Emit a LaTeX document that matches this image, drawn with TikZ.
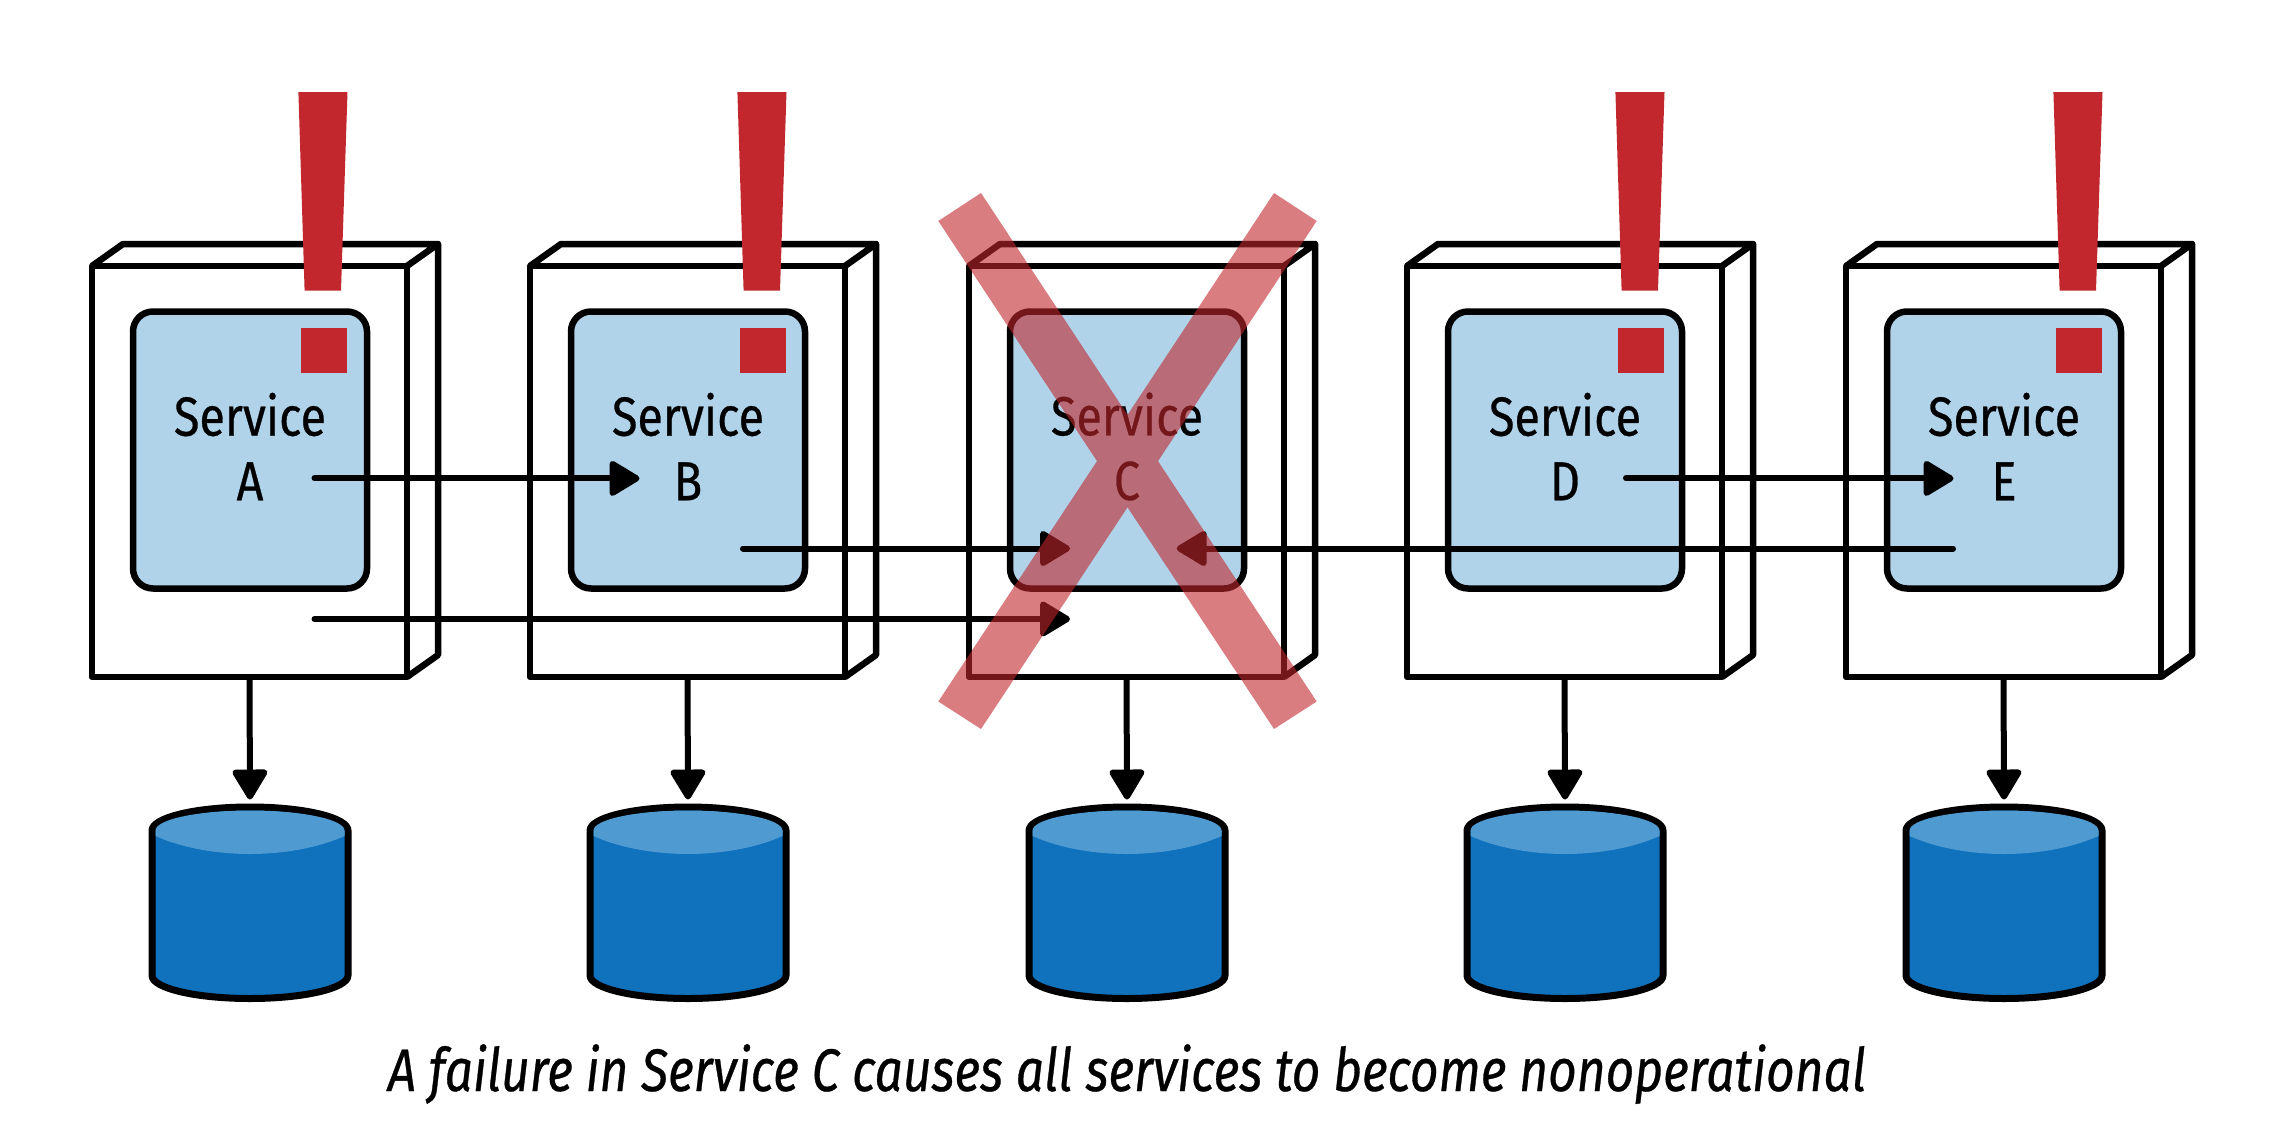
\documentclass[tikz,border=0pt]{standalone}
\usepackage{fontspec}
\newfontfamily\svcfont[FakeStretch=0.85,FakeBold=0.5]{Fira Sans}
\newfontfamily\capfont[FakeStretch=0.828,FakeBold=0.5]{Fira Sans}
\usetikzlibrary{arrows.meta,calc}
\definecolor{alertred}{HTML}{C1272D}
\definecolor{svcblue}{HTML}{B0D3EA}
\definecolor{dbblue}{HTML}{1071BD}
\definecolor{dblight}{HTML}{4F9BD1}
\tikzset{
  x=1pt,y=-1pt,
  boxline/.style={draw=black,line width=6.5pt,line join=round},
  frontbox/.style={boxline,minimum width=315pt,minimum height=411pt,inner sep=0pt,outer sep=0pt},
  svcbox/.style={boxline,fill=svcblue,rounded corners=20pt,minimum width=234pt,minimum height=277pt,inner sep=0pt,outer sep=0pt},
  svctext/.style={font={\svcfont\fontsize{55}{64.6}\selectfont},align=center,inner sep=0pt,outer sep=0pt},
  flow/.style={draw=black,line width=6pt,line cap=round,-{Triangle[length=33pt,width=38pt,round=false]}},
  alert/.style={fill=alertred,draw=none},
  dbshape/.style={draw=black,line width=7pt,fill=dbblue,line join=round},
  crossmark/.style={fill=alertred,fill opacity=0.6,draw=none},
  caption/.style={font={\capfont\itshape\fontsize{60}{70}\selectfont},inner sep=0pt,outer sep=0pt}
}
\begin{document}
\begin{tikzpicture}
\useasboundingbox (0,0) rectangle (2282,1140);
\foreach \n/\x in {A/92,B/530,C/969,D/1407,E/1846}{
  % box with depth
  \draw[boxline] (\x,266) -- ++(31,-22) -- (\x+346,244) -- (\x+315,266);
  \draw[boxline] (\x+346,244) -- (\x+346,655) -- (\x+315,677);
  \node[frontbox] (box\n) at (\x+157.5,471.5) {};
  \node[svcbox] (svc\n) at (\x+158,450) {};
  \node[svctext,anchor=center] (lbl\n) at (\x+158,446.5) {Service\\\n};
  % database
  \path[dbshape] (\x+60,830.5) -- (\x+60,975.5) arc[start angle=180,end angle=0,x radius=98,y radius=23]
     -- (\x+256,830.5) arc[start angle=0,end angle=-180,x radius=98,y radius=23.5] -- cycle;
  \fill[dblight] (\x+63.5,836) .. controls (\x+90,848) and (\x+125,854) .. (\x+158,854)
     .. controls (\x+191,854) and (\x+226,848) .. (\x+252.5,836)
     -- (\x+252.5,830.5) arc[start angle=0,end angle=-180,x radius=94.5,y radius=20] -- cycle;
  \coordinate (dbtop\n) at (\x+158,799.5);
  \draw[flow,line cap=butt] (box\n.south) -- (dbtop\n);
}
% alert marks on every service except C
\foreach \n/\x in {A/92,B/531,D/1409,E/1847}{
  \fill[alert] (\x+206.4,92) -- (\x+255.5,92) -- (\x+249,290.6) -- (\x+212.6,290.6) -- cycle;
  \fill[alert] (\x+209,328) rectangle (\x+254.6,373);
}
% calls
\coordinate (a1) at (314.5,478.4); \coordinate (b1) at (639.5,478.4);
\coordinate (a2) at (314.5,619); \coordinate (c2) at (1070,619);
\coordinate (b3) at (743,548.5); \coordinate (c3) at (1070,548.5);
\coordinate (e3) at (1953,548.5); \coordinate (c4) at (1176.7,548.5);
\coordinate (d1) at (1626,478.4); \coordinate (e1) at (1953.5,478.4);
\draw[flow] (a1) -- (b1);
\draw[flow] (a2) -- (c2);
\draw[flow] (b3) -- (c3);
\draw[flow] (e3) -- (c4);
\draw[flow] (d1) -- (e1);
% the cross over service C
\fill[crossmark] (938.3,221) -- (981,193) -- (1316.7,701.5) -- (1274,729) -- cycle
  (1274,193) -- (1316.7,221) -- (981,729) -- (938.3,701.5) -- cycle;
\node[caption,anchor=base] (cap) at (1127,1091) {A failure in Service C causes all services to become nonoperational};
\end{tikzpicture}
\end{document}
